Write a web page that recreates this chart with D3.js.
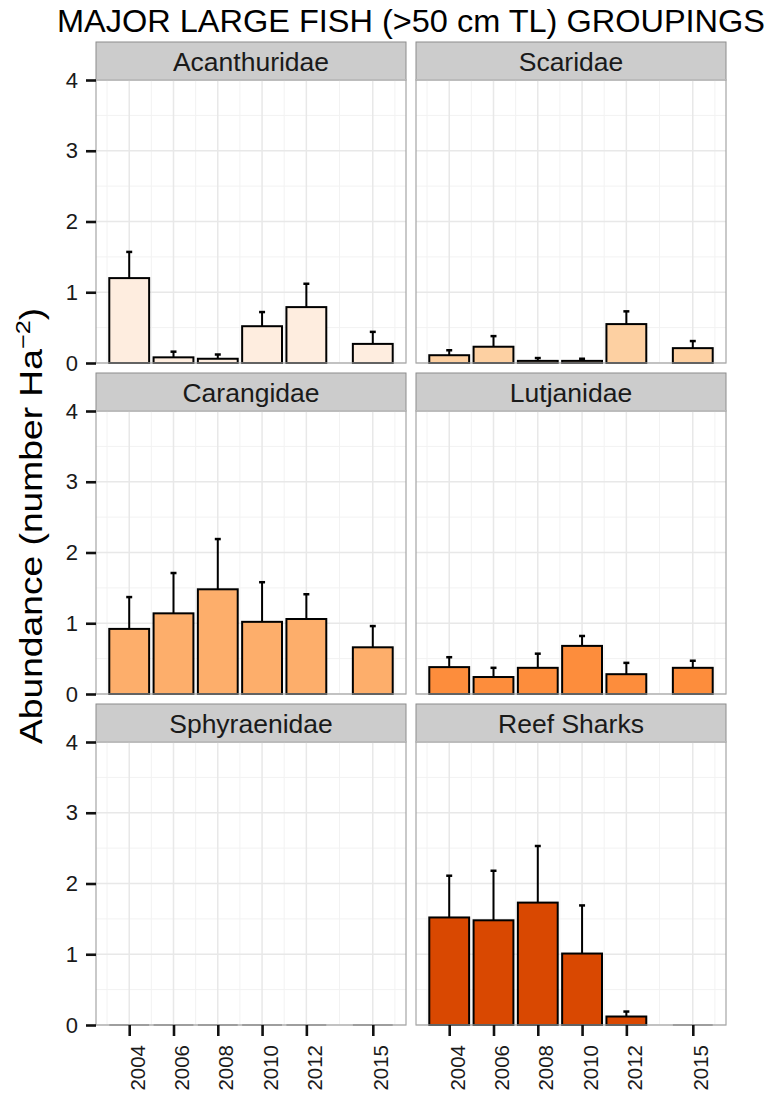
<!DOCTYPE html>
<html>
<head>
<meta charset="utf-8">
<script src="https://cdn.jsdelivr.net/npm/d3@7"></script>
<style>
  body { margin: 0; background: #fff; }
  svg { display: block; font-family: "Liberation Sans", Arial, sans-serif; }
</style>
</head>
<body>
<div id="chart"></div>
<script>
// survey years and panel names
const years = [2004, 2006, 2008, 2010, 2012, 2015];
const families = ["Acanthuridae", "Scaridae", "Carangidae", "Lutjanidae", "Sphyraenidae", "Reef Sharks"];
const familyFills = ["#feeddf", "#fdd0a2", "#fdae6b", "#fd8d3c", "#f16913", "#d94801"];

// mean abundance (number / Ha) per year
const acanthuridae = [1.20, 0.08, 0.06, 0.52, 0.79, 0.27];
const scaridae     = [0.11, 0.23, 0.03, 0.03, 0.55, 0.21];
const carangidae   = [0.92, 1.14, 1.48, 1.02, 1.06, 0.66];
const lutjanidae   = [0.38, 0.24, 0.37, 0.68, 0.28, 0.37];
const sphyraenidae = [0, 0, 0, 0, 0, 0];
const reefSharks   = [1.52, 1.48, 1.73, 1.01, 0.12, 0];

// standard errors (upper whisker only)
const acanthuridaeSE = [0.37, 0.08, 0.06, 0.20, 0.33, 0.17];
const scaridaeSE     = [0.07, 0.15, 0.04, 0.03, 0.18, 0.10];
const carangidaeSE   = [0.45, 0.57, 0.71, 0.56, 0.35, 0.30];
const lutjanidaeSE   = [0.14, 0.13, 0.20, 0.14, 0.16, 0.10];
const sphyraenidaeSE = [0, 0, 0, 0, 0, 0];
const reefSharksSE   = [0.59, 0.70, 0.80, 0.68, 0.07, 0];

const yTicks = [0, 1, 2, 3, 4];
const yMinor = [0.5, 1.5, 2.5, 3.5];
const xMinor = [2003, 2005, 2007, 2009, 2011, 2013.5, 2016];

const means = [acanthuridae, scaridae, carangidae, lutjanidae, sphyraenidae, reefSharks];
const errs = [acanthuridaeSE, scaridaeSE, carangidaeSE, lutjanidaeSE, sphyraenidaeSE, reefSharksSE];

// layout
const W = 780, H = 1094;
const colX = [96, 416];
const rowY = [80, 411, 742];
const panelW = 310, panelH = 283, stripH = 38;

const svg = d3.select("#chart").append("svg")
    .attr("width", W)
    .attr("height", H);

const x = d3.scaleLinear().domain([2002.5, 2016.5]).range([0, panelW]);
const y = d3.scaleLinear().domain([0, 4]).range([panelH, 0]);
const barW = x(2001.8) - x(2000);
const capW = x(2000.27) - x(2000);

// title
svg.append("text")
    .attr("x", 57)
    .attr("y", 32)
    .attr("font-size", 32)
    .attr("textLength", 708)
    .attr("lengthAdjust", "spacingAndGlyphs")
    .attr("fill", "#000")
    .text("MAJOR LARGE FISH (>50 cm TL) GROUPINGS");

// y axis title (stretched along the text to match the original's width)
const yTitle = svg.append("text")
    .attr("transform", "translate(42,744) rotate(-90) scale(1.2,1)")
    .attr("font-size", 31)
    .attr("fill", "#000");
yTitle.append("tspan").text("Abundance (number Ha");
yTitle.append("tspan").attr("font-size", 21).attr("dy", -12).text("\u22122");
yTitle.append("tspan").attr("dy", 12).text(")");

families.forEach((fam, i) => {
    let col = i % 2, row = Math.floor(i / 2);
    let g = svg.append("g")
        .attr("transform", `translate(${colX[col]},${rowY[row]})`);

    // strip
    g.append("rect")
        .attr("x", 0).attr("y", -stripH)
        .attr("width", panelW).attr("height", stripH)
        .attr("fill", "#cccccc")
        .attr("stroke", "#8c8c8c")
        .attr("stroke-width", 1);
    g.append("text")
        .attr("x", panelW / 2).attr("y", -9)
        .attr("text-anchor", "middle")
        .attr("font-size", 26.5)
        .attr("fill", "#1a1a1a")
        .text(fam);

    // grid
    g.selectAll(".ymin").data(yMinor).enter().append("line")
        .attr("x1", 0).attr("x2", panelW)
        .attr("y1", d => y(d)).attr("y2", d => y(d))
        .attr("stroke", "#f2f2f2").attr("stroke-width", 1);
    g.selectAll(".xmin").data(xMinor).enter().append("line")
        .attr("y1", 0).attr("y2", panelH)
        .attr("x1", d => x(d)).attr("x2", d => x(d))
        .attr("stroke", "#f2f2f2").attr("stroke-width", 1);
    g.selectAll(".ymaj").data(yTicks).enter().append("line")
        .attr("x1", 0).attr("x2", panelW)
        .attr("y1", d => y(d)).attr("y2", d => y(d))
        .attr("stroke", "#e8e8e8").attr("stroke-width", 1.5);
    g.selectAll(".xmaj").data(years).enter().append("line")
        .attr("y1", 0).attr("y2", panelH)
        .attr("x1", d => x(d)).attr("x2", d => x(d))
        .attr("stroke", "#e8e8e8").attr("stroke-width", 1.5);

    let data = years.map((yr, j) => ({year: yr, mean: means[i][j], se: errs[i][j]}));

    // error bars (drawn first, bar covers the lower part)
    let eb = data.filter(d => d.se > 0);
    g.selectAll(".err").data(eb).enter().append("line")
        .attr("x1", d => x(d.year)).attr("x2", d => x(d.year))
        .attr("y1", d => y(d.mean)).attr("y2", d => y(d.mean + d.se))
        .attr("stroke", "#000").attr("stroke-width", 2);
    g.selectAll(".cap").data(eb).enter().append("line")
        .attr("x1", d => x(d.year) - capW / 2).attr("x2", d => x(d.year) + capW / 2)
        .attr("y1", d => y(d.mean + d.se)).attr("y2", d => y(d.mean + d.se))
        .attr("stroke", "#000").attr("stroke-width", 2.5);

    // bars
    g.selectAll(".bar").data(data.filter(d => d.mean > 0)).enter().append("rect")
        .attr("x", d => x(d.year) - barW / 2)
        .attr("y", d => y(d.mean))
        .attr("width", barW)
        .attr("height", d => y(0) - y(d.mean))
        .attr("fill", familyFills[i])
        .attr("stroke", "#000")
        .attr("stroke-width", 2);
    // zero bars collapse to a line
    g.selectAll(".zero").data(data.filter(d => d.mean === 0)).enter().append("line")
        .attr("x1", d => x(d.year) - barW / 2).attr("x2", d => x(d.year) + barW / 2)
        .attr("y1", y(0)).attr("y2", y(0))
        .attr("stroke", "#777").attr("stroke-width", 1.5);

    // panel border
    g.append("rect")
        .attr("width", panelW).attr("height", panelH)
        .attr("fill", "none")
        .attr("stroke", "#a6a6a6")
        .attr("stroke-width", 1.2);

    // y axis on left column
    if (col === 0) {
        let ya = g.append("g")
            .call(d3.axisLeft(y).tickValues(yTicks).tickFormat(d3.format("d")).tickSize(10).tickPadding(8));
        ya.select(".domain").remove();
        ya.selectAll("line").attr("stroke", "#111").attr("stroke-width", 2.6);
        ya.selectAll("text").attr("font-size", 22).attr("fill", "#1a1a1a")
            .attr("font-family", "Liberation Sans, Arial, sans-serif");
    }

    // x axis on bottom row
    if (row === 2) {
        let xa = g.append("g")
            .attr("transform", `translate(0,${panelH})`)
            .call(d3.axisBottom(x).tickValues(years).tickFormat(d3.format("d")).tickSize(11));
        xa.select(".domain").remove();
        xa.selectAll("line").attr("stroke", "#111").attr("stroke-width", 2.6);
        xa.selectAll("text")
            .attr("font-size", 20.5).attr("fill", "#1a1a1a")
            .attr("font-family", "Liberation Sans, Arial, sans-serif")
            .attr("text-anchor", "end")
            .attr("dy", null)
            .attr("y", 0)
            .attr("transform", "translate(15,20) rotate(-90)");
    }
});
</script>
</body>
</html>
